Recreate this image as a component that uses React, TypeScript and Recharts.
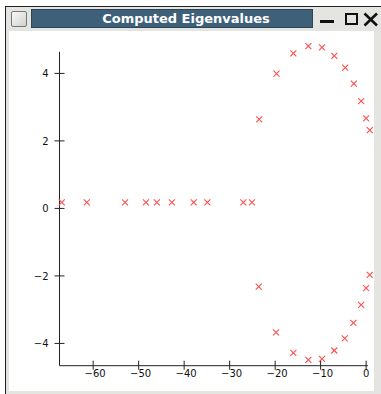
import React from 'react';
import { ScatterChart, Scatter, XAxis, YAxis, ReferenceLine } from 'recharts';

const realBranchX = [-66.9, -61.4, -53.0, -48.4, -46.0, -42.7, -37.9, -34.9, -27.0, -25.1];
const realBranchY = [0.18, 0.18, 0.18, 0.18, 0.18, 0.18, 0.18, 0.18, 0.18, 0.18];

const upperBranchX = [-23.5, -19.7, -16.0, -12.7, -9.7, -7.0, -4.6, -2.7, -1.1, 0.0, 0.8];
const upperBranchY = [2.64, 3.99, 4.59, 4.81, 4.77, 4.52, 4.17, 3.70, 3.18, 2.67, 2.32];

const lowerBranchX = [-23.6, -19.8, -16.0, -12.7, -9.7, -7.0, -4.7, -2.8, -1.1, 0.0, 0.8];
const lowerBranchY = [-2.32, -3.67, -4.28, -4.49, -4.46, -4.21, -3.85, -3.39, -2.86, -2.36, -1.97];

const xTicks = [-60, -50, -40, -30, -20, -10, 0];
const yTicks = [-4, -2, 0, 2, 4];

// where the drawn axis lines start and stop
const axisXMin = -67.4;
const axisXMax = 0.4;
const axisYMin = -4.66;
const axisYMax = 4.64;

const toPoints = (xs: number[], ys: number[]) => xs.map((x, i) => ({ re: x, im: ys[i] }));

const points = [
  ...toPoints(realBranchX, realBranchY),
  ...toPoints(upperBranchX, upperBranchY),
  ...toPoints(lowerBranchX, lowerBranchY),
];

const fmt = (v: number) => (v < 0 ? '\u2212' + Math.abs(v) : String(v));

const Cross = (props: any) => {
  const { cx, cy } = props;
  if (cx == null || cy == null) return null;
  const s = 3;
  return (
    <g stroke="#ff4f4f" strokeWidth={1.1}>
      <line x1={cx - s} y1={cy - s} x2={cx + s} y2={cy + s} />
      <line x1={cx - s} y1={cy + s} x2={cx + s} y2={cy - s} />
    </g>
  );
};

const XTick = (props: any) => {
  const { x, y, payload } = props;
  const v = payload.value;
  return (
    <g>
      <line x1={x} y1={y - 5} x2={x} y2={y + 4} stroke="#222" />
      <text x={x + (v < 0 ? 2 : 0)} y={y + 11.5} textAnchor="middle" fontSize={10} fill="#111"
        fontFamily="DejaVu Sans">
        {fmt(v)}
      </text>
    </g>
  );
};

const YTick = (props: any) => {
  const { x, y, payload } = props;
  return (
    <g>
      <line x1={x - 5} y1={y} x2={x + 5} y2={y} stroke="#222" />
      <text x={x - 11} y={y + 4} textAnchor="end" fontSize={10} fill="#111" fontFamily="DejaVu Sans">
        {fmt(payload.value)}
      </text>
    </g>
  );
};

export default function App() {
  return (
    <div style={{ position: 'relative', width: 381, height: 394, background: '#fff', overflow: 'hidden' }}>
      <style>{'body{margin:0}'}</style>
      {/* window frame */}
      <div style={{ position: 'absolute', left: 5, top: 6, width: 376, height: 388, background: '#e4e4e0',
        borderLeft: '1px solid #222', borderTop: '1px solid #222' }} />
      <div style={{ position: 'absolute', left: 11, top: 11, width: 14, height: 14, borderRadius: 2,
        background: 'linear-gradient(135deg, #fafafa, #d0d0cc)', border: '1px solid #777' }} />
      <div style={{ position: 'absolute', left: 31, top: 9, width: 282, height: 19, background: '#3f6079',
        border: '1px solid #2c4558', boxSizing: 'border-box', color: '#fff', fontFamily: 'DejaVu Sans',
        fontWeight: 'bold', fontSize: 13, lineHeight: '17px', textAlign: 'center', paddingLeft: 28 }}>
        Computed Eigenvalues
      </div>
      <div style={{ position: 'absolute', left: 320, top: 20, width: 14, height: 3, background: '#111' }} />
      <div style={{ position: 'absolute', left: 345, top: 13, width: 13, height: 12, border: '2px solid #111',
        boxSizing: 'border-box' }} />
      <svg style={{ position: 'absolute', left: 363, top: 12 }} width={16} height={15}>
        <line x1={1.5} y1={1.5} x2={14} y2={13.5} stroke="#111" strokeWidth={2.6} />
        <line x1={1.5} y1={13.5} x2={14} y2={1.5} stroke="#111" strokeWidth={2.6} />
      </svg>
      <div style={{ position: 'absolute', left: 9, top: 31, width: 365, height: 360, background: '#fff' }} />
      <div style={{ position: 'absolute', left: 0, top: 0 }}>
        <ScatterChart width={381} height={394} margin={{ top: 44.7, right: 11, bottom: 8.3, left: 9.5 }}>
          <XAxis type="number" dataKey="re" domain={[axisXMin, 0.85]} ticks={xTicks}
            height={20} tickSize={0} tickMargin={0} tickLine={false} tick={<XTick />}
            axisLine={false} interval={0} />
          <YAxis type="number" dataKey="im" domain={[axisYMin, 4.85]} ticks={yTicks}
            width={50} tickSize={0} tickMargin={0} tickLine={false} tick={<YTick />}
            axisLine={false} interval={0} />
          <ReferenceLine segment={[{ x: axisXMin, y: axisYMin }, { x: axisXMax, y: axisYMin }]}
            stroke="#222" strokeWidth={1} />
          <ReferenceLine segment={[{ x: axisXMin, y: axisYMin }, { x: axisXMin, y: axisYMax }]}
            stroke="#222" strokeWidth={1} />
          <Scatter data={points} shape={<Cross />} isAnimationActive={false} />
        </ScatterChart>
      </div>
    </div>
  );
}
